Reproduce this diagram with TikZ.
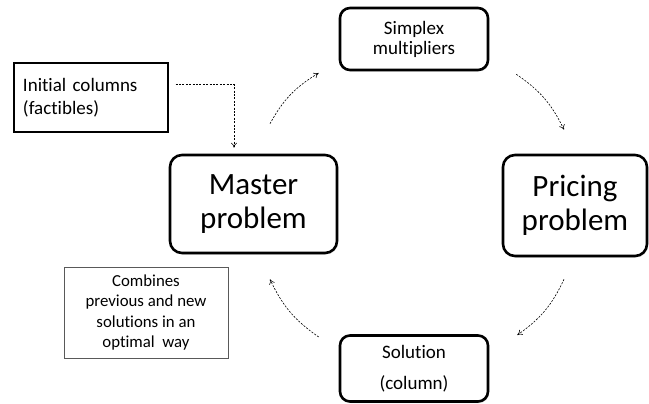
\documentclass[tikz,border=0pt]{standalone}
\usepackage{fontspec}
\setmainfont[Ligatures=NoCommon]{Carlito}
\usetikzlibrary{arrows.meta,calc,shadows}
\begin{document}
\begin{tikzpicture}[x=1pt,y=-1pt,
  stage/.style={draw,line width=2.6pt,rounded corners=12pt,align=center,inner sep=0pt,fill=white,
    drop shadow={opacity=0.3,shadow xshift=1pt,shadow yshift=-1.5pt}},
  plainbox/.style={draw,inner sep=0pt},
  bigtext/.style={font=\fontsize{31}{34}\selectfont},
  smalltext/.style={font=\fontsize{19}{20}\selectfont},
  flow/.style={-{To[length=5pt,width=6pt]},line width=0.6pt,dash pattern=on 2pt off 1.4pt}]
\useasboundingbox (0,0) rectangle (649,404);

\node[plainbox,line width=1.2pt,minimum width=154pt,minimum height=69pt,text width=136pt,align=left,
  font=\fontsize{19}{23.5}\selectfont]
  (init) at (91,97.5) {Initial columns\\(factibles)};
\node[stage,bigtext,minimum width=167pt,minimum height=98pt]
  (master) at (253.5,204) {Master\\problem};
\node[stage,smalltext,minimum width=148pt,minimum height=62pt,rounded corners=10pt]
  (simplex) at (414,39) {Simplex\\multipliers};
\node[stage,bigtext,minimum width=144pt,minimum height=101pt]
  (pricing) at (575,205.5) {Pricing\\problem};
\node[stage,smalltext,minimum width=148pt,minimum height=66pt,rounded corners=10pt]
  (solution) at (414,368.5) {Solution\\[11pt](column)};
\node[plainbox,draw=black!65,line width=0.8pt,minimum width=164pt,minimum height=91pt,
  font=\fontsize{16.8}{20.3}\selectfont,align=center]
  (combine) at (146,312.5) {Combines\\previous and new\\solutions in an\\optimal~ way};

\draw[flow] ([shift={(16.5,-30)}]master.north) to[bend left=15] ([shift={(-20,34)}]simplex.west);
\draw[flow] ([shift={(27,3)}]simplex.south east) to[bend left=15] ([shift={(-11,-24)}]pricing.north);
\draw[flow] ([shift={(-11,22)}]pricing.south) to[bend left=15] ([shift={(28,-33.5)}]solution.east);
\draw[flow] ([shift={(-20,-31.5)}]solution.west) to[bend left=15] ([shift={(16.5,25)}]master.south);
\draw[flow] ([shift={(7,-13)}]init.east) -| ([shift={(-19.5,-6)}]master.north);
\end{tikzpicture}
\end{document}
